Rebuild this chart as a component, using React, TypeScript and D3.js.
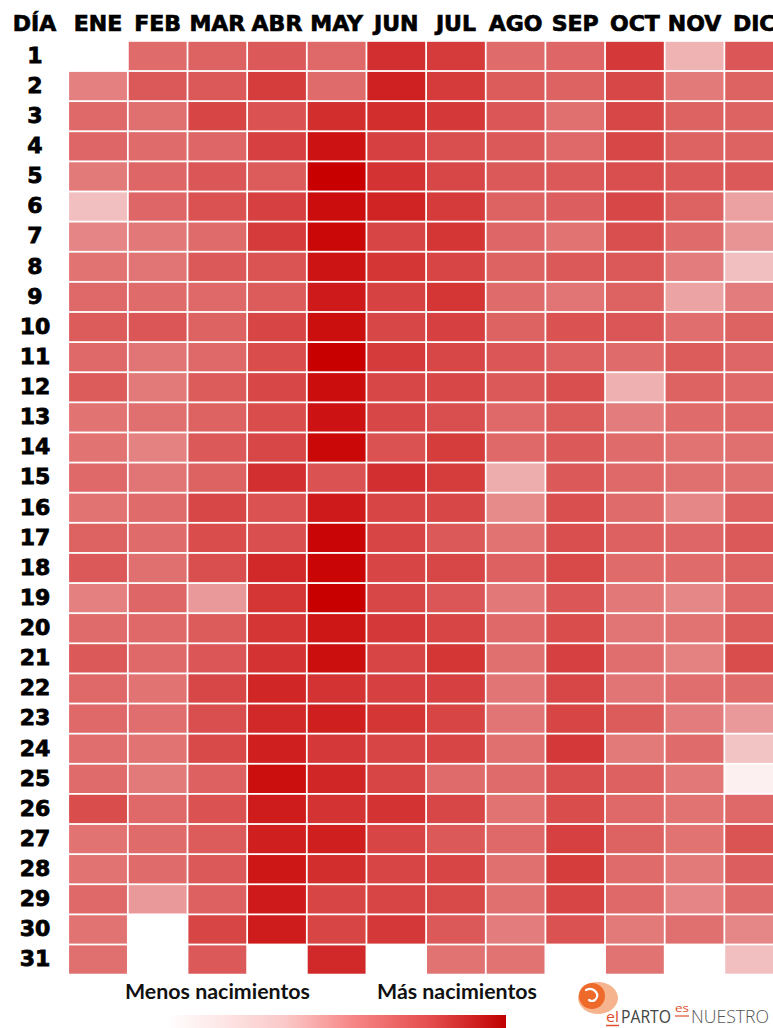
import React from "react";
import * as d3 from "d3";

// ---- Data (intensity index, 0 = fewest births, 100 = most births; null = no such day) ----
const months = ["ENE", "FEB", "MAR", "ABR", "MAY", "JUN", "JUL", "AGO", "SEP", "OCT", "NOV", "DIC"];
const days = d3.range(1, 32);

const ene = [null, 50, 59, 60, 52, 25, 48, 55, 59, 64, 59, 64, 55, 55, 59, 55, 61, 65, 50, 58, 65, 59, 59, 57, 58, 70, 55, 55, 59, 55, 56];
const feb = [58, 65, 56, 58, 60, 60, 53, 54, 58, 66, 54, 52, 56, 49, 54, 58, 58, 56, 60, 59, 59, 55, 57, 55, 52, 59, 58, 58, 40, null, null];
const mar = [61, 65, 73, 60, 66, 68, 58, 65, 59, 61, 59, 64, 61, 65, 61, 72, 70, 69, 40, 64, 66, 72, 69, 71, 62, 68, 64, 65, 62, 73, 65];
const abr = [65, 76, 68, 75, 64, 75, 77, 67, 64, 73, 70, 72, 70, 72, 81, 68, 69, 84, 79, 79, 80, 85, 84, 88, 94, 89, 88, 91, 90, 89, null];
const may = [59, 58, 82, 93, 100, 95, 97, 92, 90, 94, 100, 95, 93, 97, 68, 90, 98, 98, 100, 91, 94, 80, 88, 78, 85, 80, 88, 82, 73, 73, 84];
const jun = [81, 87, 82, 75, 80, 86, 73, 79, 74, 72, 77, 72, 72, 68, 81, 73, 73, 73, 72, 78, 73, 75, 79, 73, 73, 80, 73, 73, 73, 78, null];
const jul = [77, 77, 78, 69, 72, 77, 79, 73, 79, 75, 72, 72, 69, 76, 76, 72, 65, 72, 66, 73, 79, 75, 73, 73, 58, 72, 65, 73, 71, 65, 55];
const ago = [58, 64, 66, 65, 65, 61, 60, 61, 58, 61, 66, 65, 59, 59, 32, 46, 55, 62, 53, 59, 56, 54, 54, 56, 58, 55, 59, 56, 56, 51, 55];
const sep = [60, 61, 56, 59, 65, 63, 55, 65, 54, 68, 62, 69, 64, 65, 65, 69, 69, 71, 66, 70, 75, 72, 73, 78, 69, 70, 75, 76, 73, 68, null];
const oct = [78, 72, 72, 72, 69, 72, 69, 65, 61, 66, 58, 31, 51, 58, 59, 58, 62, 58, 53, 54, 57, 54, 64, 52, 62, 59, 61, 58, 59, 52, 55];
const nov = [30, 52, 61, 61, 65, 61, 58, 51, 36, 57, 64, 61, 58, 55, 56, 47, 60, 58, 47, 55, 49, 57, 51, 58, 53, 55, 55, 52, 48, 56, null];
const dic = [66, 61, 61, 61, 65, 37, 42, 25, 51, 61, 60, 59, 59, 56, 56, 62, 65, 61, 59, 64, 70, 58, 40, 23, 6, 59, 67, 63, 58, 47, 25];

const series: (number | null)[][] = [ene, feb, mar, abr, may, jun, jul, ago, sep, oct, nov, dic];

const headerLabel = "DÍA";
const legendLow = "Menos nacimientos";
const legendHigh = "Más nacimientos";

export default function App() {
  const W = 773;
  const H = 1028;

  const x = d3
    .scaleBand<string>()
    .domain(months)
    .range([68.2, 68.2 + 12 * 59.65])
    .paddingInner(0.03)
    .paddingOuter(0.015);

  const y = d3
    .scaleBand<number>()
    .domain(days)
    .range([40.9, 40.9 + 31 * 30.12])
    .paddingInner(0.06)
    .paddingOuter(0.03);

  const color = d3
    .scaleLinear<string>()
    .domain([0, 100])
    .range(["#ffffff", "#c80000"])
    .interpolate(d3.interpolateRgb);

  const cells: { m: string; d: number; v: number }[] = [];
  series.forEach((arr, i) => {
    arr.forEach((v, j) => {
      if (v !== null) cells.push({ m: months[i], d: days[j], v });
    });
  });

  const headFont = "'DejaVu Sans', 'Liberation Sans', sans-serif";
  const labelFont = "Lato, 'Open Sans', sans-serif";
  const logoFont = "'Open Sans', sans-serif";

  return (
    <>
      <style>{`body{margin:0;overflow:hidden;background:#fff}`}</style>
      <svg
        width={W}
        height={H}
        viewBox={`0 0 ${W} ${H}`}
        style={{ position: "absolute", left: 0, top: 0, display: "block" }}
      >
        <defs>
          <linearGradient id="legendGrad" x1="0" x2="1" y1="0" y2="0">
            <stop offset="0%" stopColor="#ffffff" />
            <stop offset="35%" stopColor="#fbc8c8" />
            <stop offset="55%" stopColor="#f78585" />
            <stop offset="78%" stopColor="#e44c4c" />
            <stop offset="100%" stopColor="#c00000" />
          </linearGradient>
        </defs>
        <rect x={0} y={0} width={W} height={H} fill="#ffffff" />

        {/* header */}
        <text
          x={34.5}
          y={31}
          textAnchor="middle"
          fontFamily={headFont}
          fontWeight={700}
          fontSize={22}
          fill="#000"
          stroke="#000"
          strokeWidth={0.7}
        >
          {headerLabel}
        </text>
        {months.map((m) => (
          <text
            key={m}
            x={(x(m) as number) + x.bandwidth() / 2}
            y={31}
            textAnchor="middle"
            fontFamily={headFont}
            fontWeight={700}
            fontSize={22}
            fill="#000"
            stroke="#000"
            strokeWidth={0.7}
          >
            {m}
          </text>
        ))}

        {/* day labels */}
        {days.map((d) => (
          <text
            key={d}
            x={35}
            y={(y(d) as number) + y.bandwidth() / 2 + 6.8}
            textAnchor="middle"
            fontFamily={headFont}
            fontWeight={700}
            fontSize={22}
            fill="#000"
            stroke="#000"
            strokeWidth={0.8}
          >
            {d}
          </text>
        ))}

        {/* cells */}
        {cells.map((c) => (
          <rect
            key={c.m + c.d}
            x={x(c.m) as number}
            y={y(c.d) as number}
            width={x.bandwidth()}
            height={y.bandwidth()}
            fill={color(c.v)}
          />
        ))}

        {/* legend */}
        <text
          x={125}
          y={999}
          fontFamily={labelFont}
          fontWeight={700}
          fontSize={20.5}
          fill="#111"
          textLength={185}
          lengthAdjust="spacingAndGlyphs"
        >
          {legendLow}
        </text>
        <text
          x={377}
          y={999}
          fontFamily={labelFont}
          fontWeight={700}
          fontSize={20.5}
          fill="#111"
          textLength={160}
          lengthAdjust="spacingAndGlyphs"
        >
          {legendHigh}
        </text>
        <rect x={167} y={1015} width={339} height={14} fill="url(#legendGrad)" />

        {/* logo */}
        <g>
          <ellipse cx={598} cy={998} rx={20} ry={16} fill="#f5a77a" opacity={0.85} />
          <circle cx={592} cy={996} r={13} fill="#ee6a2a" />
          <path
            d="M586 990 q6 -3 10 2 q3 4 -1 8 q-3 2 -6 0"
            fill="none"
            stroke="#ffffff"
            strokeWidth={2.2}
            strokeLinecap="round"
          />
          <text x={606} y={1022} fontFamily={logoFont} fontSize={14} fill="#e0502a" textLength={13} lengthAdjust="spacingAndGlyphs">
            el
          </text>
          <text x={621} y={1022.5} fontFamily={logoFont} fontSize={17.5} fill="#444" textLength={50} lengthAdjust="spacingAndGlyphs">
            PARTO
          </text>
          <text x={675} y={1012} fontFamily={logoFont} fontSize={11} fill="#e0502a" textLength={14} lengthAdjust="spacingAndGlyphs">
            es
          </text>
          <text x={691} y={1022.5} fontFamily={logoFont} fontWeight={300} fontSize={18} fill="#555" textLength={78} lengthAdjust="spacingAndGlyphs">
            NUESTRO
          </text>
          <line x1={606} x2={619} y1={1025.5} y2={1025.5} stroke="#e0502a" strokeWidth={1.5} />
          <line x1={675} x2={689} y1={1016} y2={1016} stroke="#e0502a" strokeWidth={1.2} />
        </g>
      </svg>
    </>
  );
}
